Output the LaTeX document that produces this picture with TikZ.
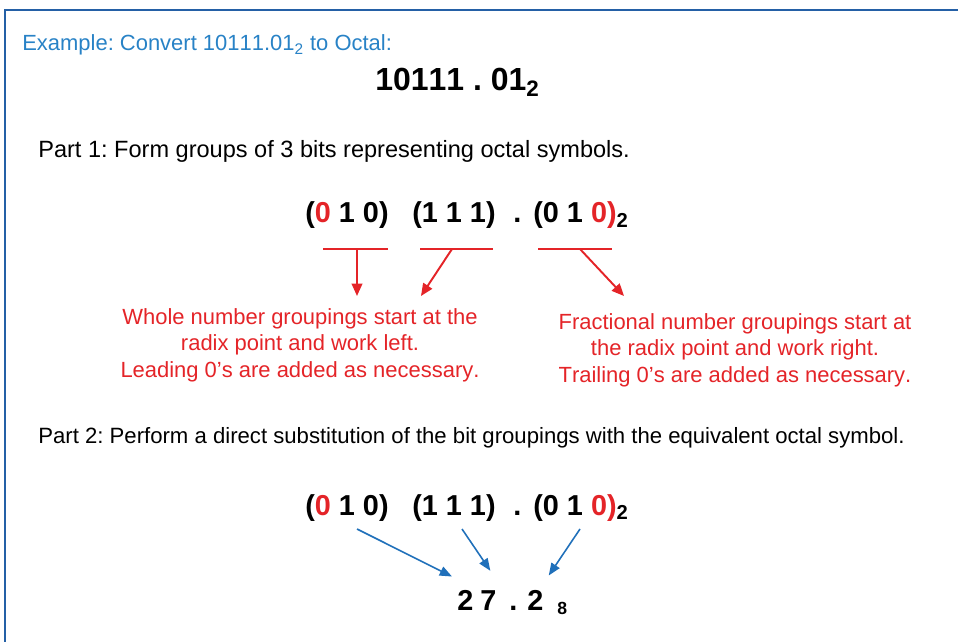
\documentclass[tikz,border=0pt]{standalone}
\usepackage{fontspec}
\setmainfont[Kerning=Off]{Liberation Sans}
\usetikzlibrary{positioning, arrows.meta, calc}

\definecolor{frameblue}{RGB}{36,96,166}
\definecolor{titleblue}{RGB}{40,130,198}
\definecolor{notered}{RGB}{228,36,40}
\definecolor{arrowblue}{RGB}{32,112,186}

\tikzset{
    bits/.style={font=\fontsize{16.4}{19}\selectfont\bfseries, inner sep=0pt, anchor=base west},
    parttext/.style={font=\fontsize{12.6}{15}\selectfont, inner sep=0pt, anchor=base west},
    note/.style={font=\fontsize{12.5}{15.2}\selectfont, text=notered, align=center, inner sep=0pt, anchor=north},
    redarrow/.style={draw=notered, line width=1.1pt, -{Triangle[length=7pt,width=6pt]}},
    bluearrow/.style={draw=arrowblue, line width=0.9pt, -{Triangle[length=7pt,width=5.5pt]}}
}

\begin{document}
\frenchspacing
\begin{tikzpicture}[x=0.02cm, y=-0.02cm]
    \useasboundingbox (0,0) rectangle (958,642);
    \draw[frameblue, line width=1.7pt] (5,642) -- (5,10) -- (958,10);

    \node[anchor=base west, inner sep=0pt, text=titleblue, font=\fontsize{12.5}{15}\selectfont] (title) at (22,51)
        {Example: Convert 10111.01\textsubscript{2} to Octal:};
    \node[anchor=base west, inner sep=0pt, font=\fontsize{18.2}{22}\selectfont\bfseries] (binnum) at (375,91)
        {10111 . 01\textsubscript{2}};

    \node[parttext, font=\fontsize{13.4}{16}\selectfont] (part1) at (38,158) {Part 1: Form groups of 3 bits representing octal symbols.};
    \node[parttext] (part2) at (38,443) {Part 2: Perform a direct substitution of the bit groupings with the equivalent octal symbol.};

    % the two rows of bit groups
    \foreach \row/\y in {a/223, b/515} {
        \node[bits] (\row1) at (305,\y) {(\textcolor{notered}{0} 1 0)};
        \node[bits] (\row2) at (412,\y) {(1 1 1)};
        \node[bits] (\row dot) at (513,\y) {.};
        \node[bits] (\row3) at (533,\y) {(0 1 \textcolor{notered}{0)}\textsubscript{2}};
    }

    \foreach \xa/\xb in {323/388, 420/493, 538/612}
        \draw[notered, line width=1.1pt] (\xa,249) -- (\xb,249);

    \node[note] (wholenote) at (300,308) {Whole number groupings start at the\\radix point and work left.\\Leading 0's are added as necessary.};
    \node[note] (fracnote) at (735,313) {Fractional number groupings start at\\the radix point and work right.\\Trailing 0's are added as necessary.};

    \coordinate (u1) at (357,249);
    \coordinate (u2) at (452,249);
    \coordinate (u3) at (580,249);
    \coordinate (w1) at (357,296);
    \coordinate (w2) at (421,296);
    \coordinate (f1) at (624,296);
    \draw[redarrow] (u1) -- (w1);
    \draw[redarrow] (u2) -- (w2);
    \draw[redarrow] (u3) -- (f1);

    % octal result
    \node[bits] (r1) at (457,610) {2};
    \node[bits] (r2) at (480,610) {7};
    \node[bits] (rdot) at (509,610) {.};
    \node[bits] (r3) at (527,610) {2};
    \node[anchor=base west, inner sep=0pt, font=\fontsize{10}{12}\selectfont\bfseries] (rbase) at (557,614) {8};

    \coordinate (s1) at (357,529);
    \coordinate (s2) at (462,529);
    \coordinate (s3) at (580,529);
    \draw[bluearrow] (s1) -- ($(r1.north west)+(-5,-13)$);
    \draw[bluearrow] (s2) -- ($(r2.north)+(2,-19)$);
    \draw[bluearrow] (s3) -- ($(r3.north east)+(5,-14)$);
\end{tikzpicture}
\end{document}
